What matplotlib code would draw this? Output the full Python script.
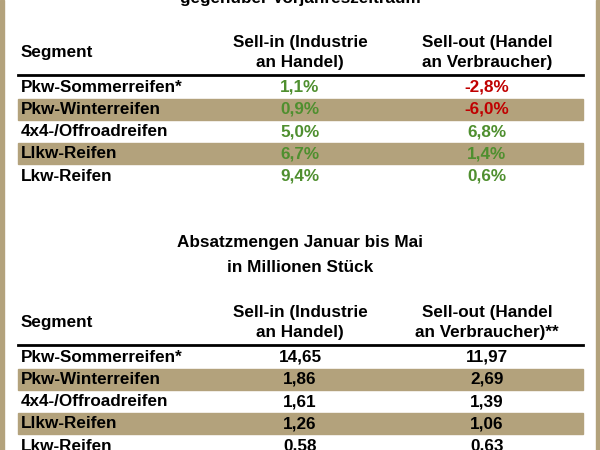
import matplotlib.pyplot as plt
from matplotlib.patches import Rectangle

segments = ['Pkw-Sommerreifen*', 'Pkw-Winterreifen', '4x4-/Offroadreifen', 'Llkw-Reifen', 'Lkw-Reifen']
sell_in_pct = ['1,1%', '0,9%', '5,0%', '6,7%', '9,4%']
sell_out_pct = ['-2,8%', '-6,0%', '6,8%', '1,4%', '0,6%']
sell_in_mio = ['14,65', '1,86', '1,61', '1,26', '0,58']
sell_out_mio = ['11,97', '2,69', '1,39', '1,06', '0,63']

TAN = '#b3a27c'
GREEN = '#4f8f2f'
RED = '#c00000'

fig = plt.figure(figsize=(6, 4.5), dpi=100)
ax = fig.add_axes([0, 0, 1, 1])
ax.set_xlim(0, 600)
ax.set_ylim(450, 0)
ax.axis('off')
fig.patch.set_facecolor('white')

# frame
ax.add_patch(Rectangle((0, 0), 4, 450, color=TAN))
ax.add_patch(Rectangle((596, 0), 4, 450, color=TAN))

font = dict(family='Liberation Sans', weight='bold', fontsize=12.3)
x_seg, x_in, x_out = 21, 300, 487

ax.text(300, -2, 'gegenüber Vorjahreszeitraum', ha='center', va='center', **font)


def table(y_head, y_row0, head_out, v_in, v_out, colored):
    ax.text(x_seg, y_head + 10, 'Segment', ha='left', va='center', **font)
    ax.text(x_in, y_head, 'Sell-in (Industrie', ha='center', va='center', **font)
    ax.text(x_in, y_head + 21, 'an Handel)', ha='center', va='center', **font)
    ax.text(x_out, y_head, 'Sell-out (Handel', ha='center', va='center', **font)
    ax.text(x_out, y_head + 21, head_out, ha='center', va='center', **font)
    ax.plot([18, 583], [y_head + 33, y_head + 33], color='black', lw=2)
    for i, seg in enumerate(segments):
        y = y_row0 + i * 22.3
        if i % 2 == 1:
            ax.add_patch(Rectangle((18, y - 10.5), 565, 21, color=TAN, zorder=0))
        ax.text(x_seg, y, seg, ha='left', va='center', **font)
        c_in = c_out = 'black'
        if colored:
            c_in = GREEN
            c_out = RED if v_out[i].startswith('-') else GREEN
        ax.text(x_in, y, v_in[i], ha='center', va='center', color=c_in, **font)
        ax.text(x_out, y, v_out[i], ha='center', va='center', color=c_out, **font)


table(42, 87, 'an Verbraucher)', sell_in_pct, sell_out_pct, True)

ax.text(300, 243, 'Absatzmengen Januar bis Mai', ha='center', va='center', **font)
ax.text(300, 267, 'in Millionen Stück', ha='center', va='center', **font)

table(312, 357, 'an Verbraucher)**', sell_in_mio, sell_out_mio, False)

fig.savefig('out.png', dpi=100)
